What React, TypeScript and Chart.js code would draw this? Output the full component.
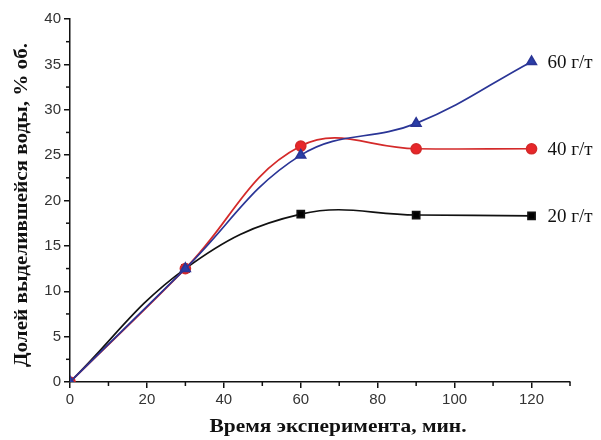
import React, { useEffect, useRef } from "react";
import { Chart, registerables } from "chart.js";

Chart.register(...registerables);

const timeMin = [0, 30, 60, 90, 120];
const dose20 = [0, 12.5, 18.5, 18.4, 18.3];
const dose40 = [0, 12.5, 26.0, 25.7, 25.7];
const dose60 = [0, 12.5, 25.0, 28.5, 35.3];
const xTickValues = [0, 20, 40, 60, 80, 100, 120];
const seriesLabels = ["20 г/т", "40 г/т", "60 г/т"];
const xTitle = "Время эксперимента, мин.";
const yTitle = "Долей выделившейся воды, % об.";

const toPts = (ys: number[]) => timeMin.map((x, i) => ({ x, y: ys[i] }));

const fitText = (ctx: CanvasRenderingContext2D, text: string, cx: number, cy: number, targetW: number, rot: number) => {
  ctx.save();
  ctx.translate(cx, cy);
  ctx.rotate(rot);
  const w = ctx.measureText(text).width;
  ctx.scale(targetW / w, 1);
  ctx.textAlign = "center";
  ctx.textBaseline = "middle";
  ctx.fillText(text, 0, 0);
  ctx.restore();
};

const decorPlugin = {
  id: "decor",
  afterDraw(chart: any) {
    const ctx = chart.ctx as CanvasRenderingContext2D;
    const xs = chart.scales.x;
    const ys = chart.scales.y;
    const area = chart.chartArea;
    ctx.save();
    ctx.strokeStyle = "#111";
    ctx.lineWidth = 1.5;
    for (let v = 10; v <= 130; v += 20) {
      const px = xs.getPixelForValue(v);
      ctx.beginPath();
      ctx.moveTo(px, area.bottom);
      ctx.lineTo(px, area.bottom + 4);
      ctx.stroke();
    }
    for (let v = 2.5; v <= 40; v += 5) {
      const py = ys.getPixelForValue(v);
      ctx.beginPath();
      ctx.moveTo(area.left, py);
      ctx.lineTo(area.left - 4, py);
      ctx.stroke();
    }
    ctx.fillStyle = "#111";
    ctx.font = "bold 19px 'Liberation Serif', 'DejaVu Serif', serif";
    fitText(ctx, xTitle, 338, 427, 257, 0);
    fitText(ctx, yTitle, 22, 205, 324, -Math.PI / 2);
    ctx.font = "19px 'Liberation Serif', 'DejaVu Serif', serif";
    ctx.textAlign = "left";
    ctx.textBaseline = "middle";
    const lastIdx = timeMin.length - 1;
    const labelYs = [dose20[lastIdx], dose40[lastIdx], dose60[lastIdx]];
    labelYs.forEach((v, i) => {
      const py = ys.getPixelForValue(v) + 1;
      ctx.fillText(seriesLabels[i], xs.getPixelForValue(timeMin[lastIdx]) + 16, py);
    });
    ctx.restore();
  },
};

export default function App() {
  const ref = useRef<HTMLCanvasElement>(null);
  useEffect(() => {
    document.body.style.margin = "0";
    const chart = new Chart(ref.current!, {
      type: "line",
      data: {
        datasets: [
          {
            label: seriesLabels[2],
            data: toPts(dose60),
            borderColor: "#2a3596",
            backgroundColor: "#2a3fa8",
            pointStyle: "triangle",
            pointRadius: 5.5,
            borderWidth: 1.7,
            tension: 0.4,
            order: 1,
          },
          {
            label: seriesLabels[1],
            data: toPts(dose40),
            borderColor: "#d42a2a",
            backgroundColor: "#e8262a",
            pointStyle: "circle",
            pointRadius: 5,
            borderWidth: 1.7,
            tension: 0.4,
            order: 2,
          },
          {
            label: seriesLabels[0],
            data: toPts(dose20),
            borderColor: "#111",
            backgroundColor: "#000",
            pointStyle: "rect",
            pointRadius: 5,
            borderWidth: 1.7,
            tension: 0.4,
            order: 3,
          },
        ],
      },
      options: {
        animation: false,
        responsive: false,
        layout: { padding: { left: 0, right: 31, top: 19, bottom: 0 } },
        plugins: { legend: { display: false }, tooltip: { enabled: false } },
        elements: { point: { borderWidth: 0 } },
        scales: {
          x: {
            type: "linear",
            min: 0,
            max: 130,
            afterFit: (s: any) => { s.height = 58; },
            afterBuildTicks: (s: any) => { s.ticks = xTickValues.map((v) => ({ value: v })); },
            ticks: {
              autoSkip: false,
              maxRotation: 0,
              minRotation: 0,
              color: "#333",
              font: { family: "'Liberation Sans', Arial, sans-serif", size: 15 },
              padding: 3,
            },
            grid: { drawOnChartArea: false, tickLength: 6, color: "#111", lineWidth: 1.5 },
            border: { display: true, color: "#111", width: 1.5 },
          },
          y: {
            type: "linear",
            min: 0,
            max: 40,
            afterFit: (s: any) => { s.width = 70; },
            ticks: {
              stepSize: 5,
              autoSkip: false,
              color: "#333",
              font: { family: "'Liberation Sans', Arial, sans-serif", size: 15 },
              padding: 3,
            },
            grid: { drawOnChartArea: false, tickLength: 6, color: "#111", lineWidth: 1.5 },
            border: { display: true, color: "#111", width: 1.5 },
          },
        },
      },
      plugins: [decorPlugin],
    });
    return () => chart.destroy();
  }, []);
  return (
    <canvas
      ref={ref}
      width={601}
      height={440}
      style={{ position: "fixed", left: 0, top: 0, width: 601, height: 440, background: "#fff" }}
    />
  );
}
